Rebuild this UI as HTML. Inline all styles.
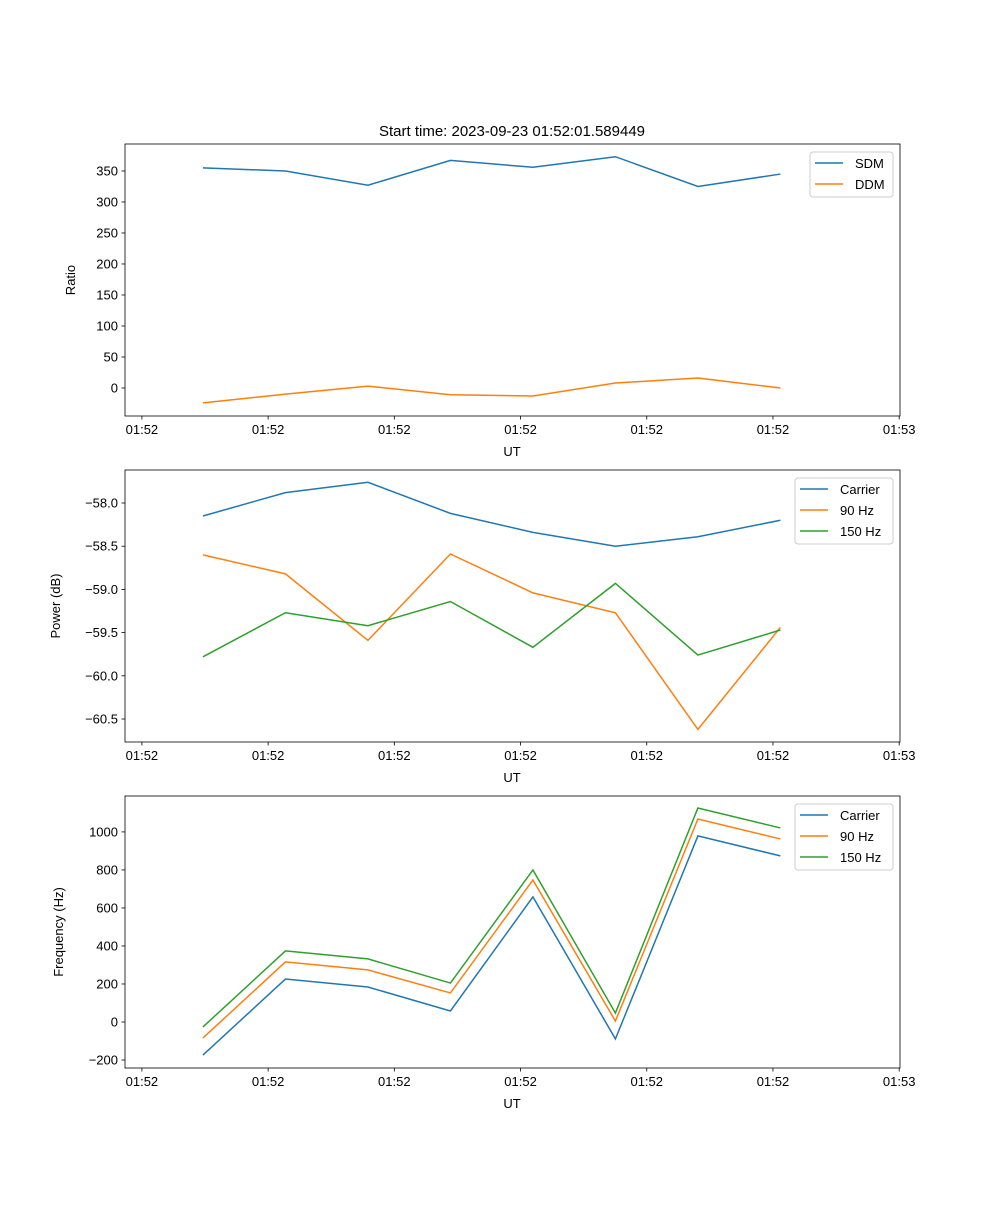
<!DOCTYPE html>
<html><head><meta charset="utf-8"><style>
body{margin:0;background:#fff;}
svg text{font-family:"Liberation Sans","DejaVu Sans",sans-serif;fill:#000;}
</style></head><body>
<svg id="fig" width="1000" height="1200" viewBox="0 0 1000 1200" xmlns="http://www.w3.org/2000/svg">
<rect width="1000" height="1200" fill="#fff"/>
<text x="512" y="136" font-size="15" text-anchor="middle">Start time: 2023-09-23 01:52:01.589449</text>
</svg>
<script>
const times = [0,1,2,3,4,5,6,7];
const xTicks = [-0.74,0.79,2.32,3.85,5.38,6.91,8.44];
const xTickLabels = ["01:52","01:52","01:52","01:52","01:52","01:52","01:53"];
const sdm = [355,350,327,367,356,373,325,345];
const ddm = [-24,-10,3,-11,-13,8,16,0];
const ratioTicks = [0,50,100,150,200,250,300,350];
const pwrCarrier = [-58.15,-57.88,-57.76,-58.12,-58.34,-58.50,-58.39,-58.20];
const pwr90 = [-58.60,-58.82,-59.59,-58.59,-59.04,-59.27,-60.62,-59.44];
const pwr150 = [-59.78,-59.27,-59.42,-59.14,-59.67,-58.93,-59.76,-59.47];
const pwrTicks = [-58.0,-58.5,-59.0,-59.5,-60.0,-60.5];
const frqCarrier = [-174,226,184,58,658,-89,979,874];
const frq90 = [-84,316,274,153,747,5,1068,963];
const frq150 = [-26,374,332,205,800,47,1126,1021];
const frqTicks = [-200,0,200,400,600,800,1000];

const svg=document.getElementById('fig');
const NS='http://www.w3.org/2000/svg';
function mk(tag,attrs,parent){const e=document.createElementNS(NS,tag);for(const k in attrs)e.setAttribute(k,attrs[k]);(parent||svg).appendChild(e);return e;}
const L=125,R=900,xMin=-0.945,xMax=8.45;
const xs=t=>L+(t-xMin)/(xMax-xMin)*(R-L);

function panel(name,top,bottom,yMin,yMax,yTicks,fmt,ylabel,ylabelX,series,leg){
  const g=mk('g',{});
  
  
  const ys=v=>bottom-(v-yMin)/(yMax-yMin)*(bottom-top);
  series.forEach(s=>{
    const p=mk('polyline',{points:s.vals.map((v,i)=>xs(times[i])+','+ys(v)).join(' '),fill:'none',stroke:s.color,'stroke-width':1.5},g);
    
    
  });
  const fr=mk('rect',{x:L,y:top,width:R-L,height:bottom-top,fill:'none',stroke:'#000','stroke-width':0.8},g);
  
  
  xTicks.forEach((t,i)=>{
    const x=xs(t);
    mk('line',{x1:x,x2:x,y1:bottom,y2:bottom+3.5,stroke:'#000','stroke-width':0.8},g);
    const tx=mk('text',{x:x,y:bottom+18,'font-size':13,'text-anchor':'middle'},g);
    tx.textContent=xTickLabels[i];
    
    
  });
  const xl=mk('text',{x:512,y:bottom+40,'font-size':13,'text-anchor':'middle'},g);
  xl.textContent='UT';
  
  
  yTicks.forEach(v=>{
    const y=ys(v);
    mk('line',{x1:L-3.5,x2:L,y1:y,y2:y,stroke:'#000','stroke-width':0.8},g);
    const tx=mk('text',{x:L-7,y:y+4.5,'font-size':13,'text-anchor':'end'},g);
    tx.textContent=fmt(v);
    
    
  });
  const yl=mk('text',{x:ylabelX,y:(top+bottom)/2,'font-size':13,'text-anchor':'middle',transform:`rotate(-90 ${ylabelX} ${(top+bottom)/2})`},g);
  yl.textContent=ylabel;
  
  
  const lg=mk('g',{},g);
  
  
  mk('rect',{x:leg.x,y:top+8,width:893-leg.x,height:series.length*21+3,rx:3,fill:'#fff',stroke:'#ccc','stroke-width':1},lg);
  series.forEach((s,i)=>{
    const y=top+19+i*21;
    mk('line',{x1:leg.x+5,x2:leg.x+33,y1:y,y2:y,stroke:s.color,'stroke-width':1.5},lg);
    const t=mk('text',{x:leg.x+45,y:y+5,'font-size':13},lg);
    t.textContent=s.label;
    
    
  });
}
const B='#1f77b4',O='#ff7f0e',G='#2ca02c';
panel('ratio',144,416,-45.2,393.5,ratioTicks,v=>v<0?'\u2212'+(-v):String(v),'Ratio',75,
  [{key:'sdm',label:'SDM',vals:sdm,color:B},{key:'ddm',label:'DDM',vals:ddm,color:O}],{x:810});
panel('power',470,742,-60.766,-57.618,pwrTicks,v=>'\u2212'+(-v).toFixed(1),'Power (dB)',60,
  [{key:'carrier',label:'Carrier',vals:pwrCarrier,color:B},{key:'90hz',label:'90 Hz',vals:pwr90,color:O},{key:'150hz',label:'150 Hz',vals:pwr150,color:G}],{x:795});
panel('frequency',796,1068,-242,1189,frqTicks,v=>v<0?'\u2212'+(-v):String(v),'Frequency (Hz)',63,
  [{key:'carrier',label:'Carrier',vals:frqCarrier,color:B},{key:'90hz',label:'90 Hz',vals:frq90,color:O},{key:'150hz',label:'150 Hz',vals:frq150,color:G}],{x:795});
</script>
</body></html>
